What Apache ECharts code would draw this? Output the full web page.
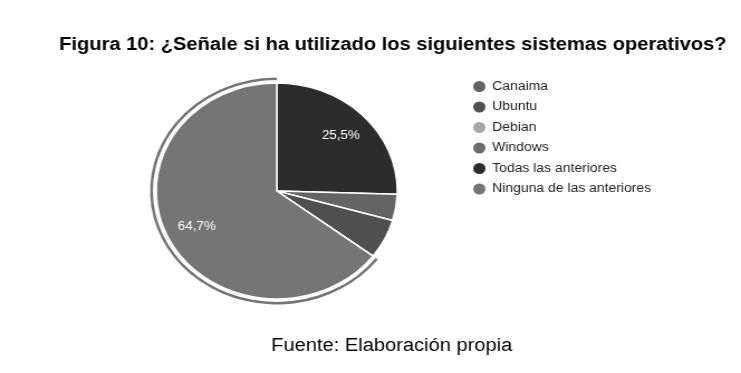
<!DOCTYPE html>
<html>
<head>
<meta charset="utf-8">
<script src="https://cdn.jsdelivr.net/npm/echarts@6/dist/echarts.min.js"></script>
<style>
	html, body { margin: 0; padding: 0; background: #fff; overflow: hidden; }
	/* the source picture is stretched sideways, so the chart is drawn narrower and widened */
	#chart { width: 664px; height: 373px; transform: scaleX(1.116); transform-origin: 0 0; }
</style>
</head>
<body>
<div id="chart"></div>
<script>
// pie order as drawn (clockwise from 12 o'clock)
var sliceNames = ["Todas las anteriores", "Canaima", "Ubuntu", "Debian", "Windows", "Ninguna de las anteriores"];
var sliceValues = [13, 2, 3, 0, 0, 33];
var sliceColors = ["#2c2c2c", "#646464", "#4f4f4f", "#a8a8a8", "#6c6c6c", "#757575"];
// legend order
var legendNames = ["Canaima", "Ubuntu", "Debian", "Windows", "Todas las anteriores", "Ninguna de las anteriores"];
var highlighted = "Ninguna de las anteriores";

var chartTitle = "Figura 10: ¿Señale si ha utilizado los siguientes sistemas operativos?";
var footer = "Fuente: Elaboración propia";

var total = sliceValues.reduce(function(a, b) { return a + b; }, 0);

function pct(v) {
	return (Math.round(v / total * 1000) / 10).toFixed(1).replace(".", ",") + "%";
}

var mainData = [],
	ringData = [],
	labelData = [],
	i;

for (i = 0; i < sliceNames.length; i++)
{
	mainData.push({
		name: sliceNames[i],
		value: sliceValues[i],
		itemStyle: { color: sliceColors[i] }
	});
	ringData.push({
		name: sliceNames[i],
		value: sliceValues[i],
		itemStyle: { color: sliceNames[i] == highlighted ? sliceColors[i] : "transparent" }
	});
	labelData.push({
		name: sliceNames[i],
		value: sliceValues[i],
		label: { show: sliceValues[i] / total > 0.1 }
	});
}

var center = [248, 191],
	r = 108;

var chart = echarts.init(document.getElementById("chart"), null, { renderer: "canvas" });

chart.setOption({
	animation: false,
	color: sliceColors,
	title: [
		{
			text: chartTitle,
			left: 347,
			top: 31,
			textAlign: "center",
			textStyle: {
				fontFamily: "Liberation Sans",
				fontWeight: "bold",
				fontSize: 18,
				color: "#000"
			}
		},
		{
			text: footer,
			left: 346,
			top: 332,
			textAlign: "center",
			textStyle: {
				fontFamily: "Liberation Sans",
				fontWeight: "normal",
				fontSize: 18,
				color: "#000"
			}
		}
	],
	legend: {
		orient: "vertical",
		left: 422,
		top: 79,
		padding: 0,
		itemWidth: 13,
		itemHeight: 13,
		itemGap: 5.5,
		icon: "circle",
		data: legendNames.map(function(n) {
			return { name: n, itemStyle: { color: sliceColors[sliceNames.indexOf(n)] } };
		}),
		textStyle: {
			fontFamily: "Liberation Sans",
			fontSize: 12.5,
			lineHeight: 12,
			color: "#222"
		},
		selectedMode: false
	},
	series: [
		{
			type: "pie",
			center: center,
			radius: [0, r],
			startAngle: 90,
			clockwise: true,
			avoidLabelOverlap: false,
			silent: true,
			label: { show: false },
			labelLine: { show: false },
			itemStyle: { borderColor: "#fff", borderWidth: 1.5 },
			data: mainData
		},
		{
			type: "pie",
			center: center,
			radius: [r + 3, r + 5.5],
			startAngle: 90,
			clockwise: true,
			silent: true,
			label: { show: false },
			labelLine: { show: false },
			data: ringData
		},
		{
			type: "pie",
			center: center,
			radius: [46, r],
			startAngle: 90,
			clockwise: true,
			silent: true,
			itemStyle: { color: "transparent" },
			label: {
				position: "inside",
				color: "#fff",
				fontFamily: "Liberation Sans",
				fontSize: 12,
				formatter: function(p) {
					return pct(p.value);
				}
			},
			labelLine: { show: false },
			data: labelData
		}
	]
});
</script>
</body>
</html>
